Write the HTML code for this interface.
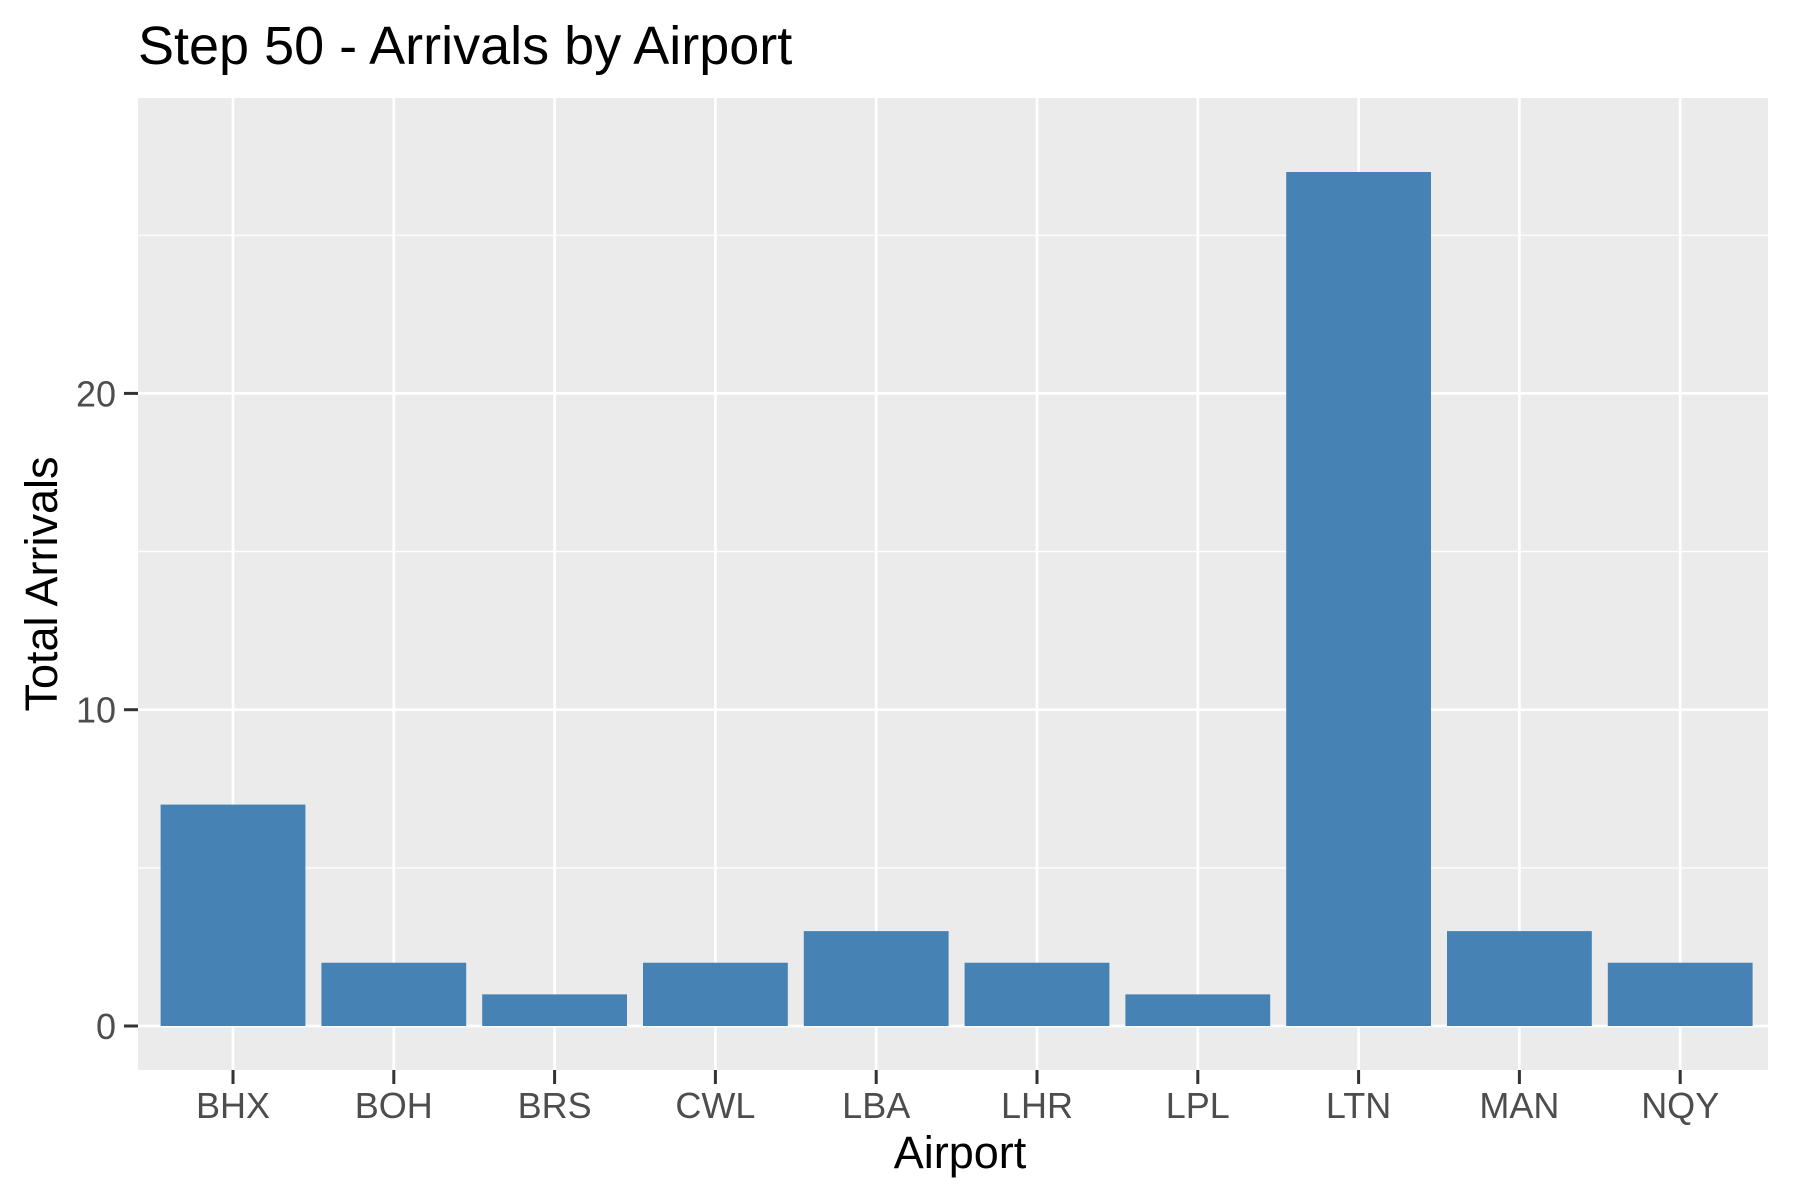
<!DOCTYPE html>
<html><head><meta charset="utf-8"><style>body{margin:0;background:#fff}svg{display:block;font-family:"Liberation Sans",Arial,sans-serif}</style></head>
<body>
<svg id="chart" width="1800" height="1200">
<text x="138" y="64" font-size="54" fill="#000">Step 50 - Arrivals by Airport</text>
<rect x="138" y="98" width="1630" height="972" fill="#ebebeb"/>
<g id="grid"></g><g id="bars"></g><g id="axes"></g>
<text x="960" y="1168" font-size="45" text-anchor="middle" fill="#000">Airport</text>
<text transform="translate(57,584) rotate(-90)" font-size="45" text-anchor="middle" fill="#000">Total Arrivals</text>
</svg>
<script>
const categories=["BHX","BOH","BRS","CWL","LBA","LHR","LPL","LTN","MAN","NQY"];
const values=[7,2,1,2,3,2,1,27,3,2];
const yTicks=[0,10,20];
const yMinor=[5,15,25];
const NS="http://www.w3.org/2000/svg";
const y=v=>1026-v*31.63;
const x=i=>233+i*160.8;
function mk(tag,attrs,parent,txt){const e=document.createElementNS(NS,tag);for(const k in attrs)e.setAttribute(k,attrs[k]);if(txt!==undefined)e.textContent=txt;document.getElementById(parent).appendChild(e);return e;}
yMinor.forEach(v=>{const l=mk('line',{x1:138,x2:1768,y1:y(v),y2:y(v),stroke:'#fff','stroke-width':1.3},'grid');

});
yTicks.forEach(v=>{const l=mk('line',{x1:138,x2:1768,y1:y(v),y2:y(v),stroke:'#fff','stroke-width':2.7},'grid');


const t=mk('line',{x1:124,x2:138,y1:y(v),y2:y(v),stroke:'#333','stroke-width':3},'axes');


const lb=mk('text',{x:116,y:y(v)+13,'font-size':36,'text-anchor':'end',fill:'#4d4d4d'},'axes',String(v));

});
categories.forEach((c,i)=>{const l=mk('line',{x1:x(i),x2:x(i),y1:98,y2:1070,stroke:'#fff','stroke-width':2.7},'grid');


const b=mk('rect',{x:x(i)-72.4,width:144.8,y:y(values[i]),height:y(0)-y(values[i]),fill:'#4682b4'},'bars');


const t=mk('line',{x1:x(i),x2:x(i),y1:1070,y2:1084,stroke:'#333','stroke-width':3},'axes');


const lb=mk('text',{x:x(i),y:1118,'font-size':36,'text-anchor':'middle',fill:'#4d4d4d'},'axes',c);

});
</script>
</body></html>
